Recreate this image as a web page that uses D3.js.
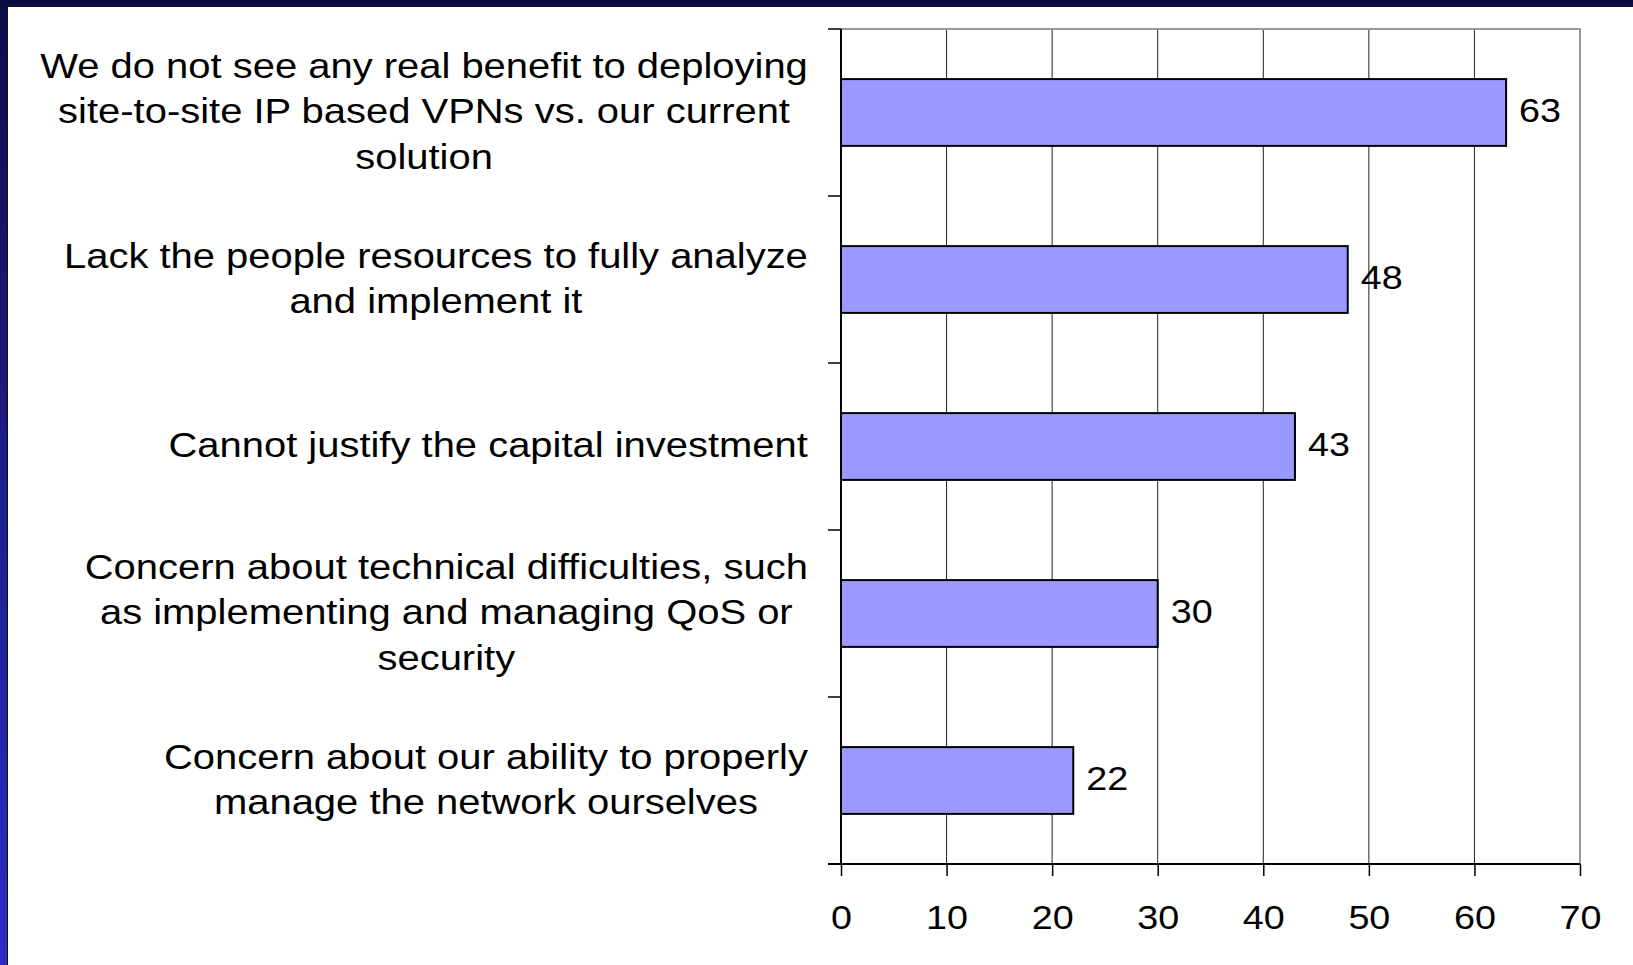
<!DOCTYPE html>
<html>
<head>
<meta charset="utf-8">
<script src="https://cdn.jsdelivr.net/npm/d3@7"></script>
<style>
  html, body { margin: 0; padding: 0; }
  body { width: 1633px; height: 965px; overflow: hidden; }
  text { font-family: "Liberation Sans", Arial, sans-serif; fill: #000; }
</style>
</head>
<body>
<svg></svg>
<script>
var width = 1633;
var height = 965;

var categories = [
  ["We do not see any real benefit to deploying", "site-to-site IP based VPNs vs. our current", "solution"],
  ["Lack the people resources to fully analyze", "and implement it"],
  ["Cannot justify the capital investment"],
  ["Concern about technical difficulties, such", "as implementing and managing QoS or", "security"],
  ["Concern about our ability to properly", "manage the network ourselves"]
];
var values = [63, 48, 43, 30, 22];
var tickValues = [0, 10, 20, 30, 40, 50, 60, 70];

var plot = {left: 841, right: 1580, top: 29, bottom: 864};
var stretch = 1.11; // the source text is drawn a little wide

var svg = d3.select('svg')
  .attr('width', width)
  .attr('height', height);

// slide frame
var defs = svg.append('defs');
var grad = defs.append('linearGradient')
  .attr('id', 'side')
  .attr('x1', 0).attr('y1', 0).attr('x2', 0).attr('y2', 1);
grad.append('stop').attr('offset', '0%').attr('stop-color', '#0c0c48');
grad.append('stop').attr('offset', '50%').attr('stop-color', '#1e1e8c');
grad.append('stop').attr('offset', '100%').attr('stop-color', '#2c2cc4');

svg.append('rect')
  .attr('width', width).attr('height', height)
  .attr('fill', 'url(#side)');
svg.append('rect')
  .attr('x', 0).attr('y', 0).attr('width', width).attr('height', 7)
  .attr('fill', '#0b0b44');
svg.append('rect')
  .attr('x', 7).attr('y', 6).attr('width', width).attr('height', height)
  .attr('fill', '#111');
svg.append('rect')
  .attr('x', 8).attr('y', 7).attr('width', width).attr('height', height)
  .attr('fill', '#fff');

var x = d3.scaleLinear()
  .domain([0, 70])
  .range([plot.left, plot.right]);

var y = d3.scaleBand()
  .domain(d3.range(values.length))
  .range([plot.top, plot.bottom])
  .paddingInner(0.6)
  .paddingOuter(0.3);

var step = y.step();

// vertical gridlines
svg.append('g')
  .selectAll('line')
  .data(tickValues.slice(1, -1))
  .enter()
  .append('line')
    .attr('x1', d => x(d)).attr('x2', d => x(d))
    .attr('y1', plot.top).attr('y2', plot.bottom)
    .attr('stroke', '#222')
    .attr('stroke-width', 1);

// plot frame top/right (gray)
svg.append('path')
  .attr('d', 'M' + plot.left + ',' + plot.top + 'H' + plot.right + 'V' + plot.bottom)
  .attr('fill', 'none')
  .attr('stroke', '#999')
  .attr('stroke-width', 2);

// bars
svg.append('g')
  .selectAll('rect')
  .data(values)
  .enter()
  .append('rect')
    .attr('x', x(0))
    .attr('y', (d, i) => y(i))
    .attr('width', d => x(d) - x(0))
    .attr('height', y.bandwidth())
    .attr('fill', '#9999ff')
    .attr('stroke', '#000')
    .attr('stroke-width', 2);

// value labels
svg.append('g')
  .selectAll('text')
  .data(values)
  .enter()
  .append('text')
    .attr('transform', (d, i) => 'translate(' + (x(d) + 13) + ',' + (y(i) + y.bandwidth() / 2 - 3) + ') scale(' + stretch + ',1)')
    .attr('dy', '0.36em')
    .attr('font-size', '34px')
    .text(d => d);

// x axis
var xAxis = d3.axisBottom(x)
  .tickValues(tickValues)
  .tickSize(12)
  .tickPadding(29)
  .tickSizeOuter(0);

var gx = svg.append('g')
  .attr('transform', 'translate(0,' + plot.bottom + ')')
  .call(xAxis);
gx.select('.domain').attr('stroke', '#000').attr('stroke-width', 2)
  .attr('d', 'M' + (plot.left - 13) + ',0H' + plot.right);
gx.selectAll('.tick line').attr('stroke', '#000').attr('stroke-width', 1.5);
gx.selectAll('.tick text')
  .attr('font-size', '34px')
  .attr('font-family', '"Liberation Sans", Arial, sans-serif')
  .attr('fill', '#000')
  .attr('transform', 'scale(' + stretch + ',1)');

// y axis line and ticks at band boundaries
svg.append('line')
  .attr('x1', plot.left).attr('x2', plot.left)
  .attr('y1', plot.top).attr('y2', plot.bottom)
  .attr('stroke', '#000').attr('stroke-width', 2);

svg.append('g')
  .selectAll('line')
  .data(d3.range(values.length))
  .enter()
  .append('line')
    .attr('x1', plot.left - 13).attr('x2', plot.left)
    .attr('y1', i => y(i) - step * 0.3)
    .attr('y2', i => y(i) - step * 0.3)
    .attr('stroke', '#000').attr('stroke-width', 1.5);

// category labels: block right-aligned, lines centered inside block
var labelRight = 808;
var lineHeight = 45.5;

var labels = svg.append('g')
  .selectAll('text')
  .data(categories)
  .enter()
  .append('text')
    .attr('font-size', '36px')
    .attr('text-anchor', 'middle');

labels.each(function(lines, i) {
  var t = d3.select(this);
  var cy = y(i) + y.bandwidth() / 2 - 2;
  var first = cy - (lines.length - 1) * lineHeight / 2;
  lines.forEach(function(line, j) {
    t.append('tspan')
      .attr('x', 0)
      .attr('y', first + j * lineHeight)
      .attr('dy', '0.36em')
      .text(line);
  });
  var maxW = 0;
  t.selectAll('tspan').each(function() {
    maxW = Math.max(maxW, this.getComputedTextLength());
  });
  t.attr('transform', 'translate(' + (labelRight - maxW * stretch / 2) + ',0) scale(' + stretch + ',1)');
});
</script>
</body>
</html>
